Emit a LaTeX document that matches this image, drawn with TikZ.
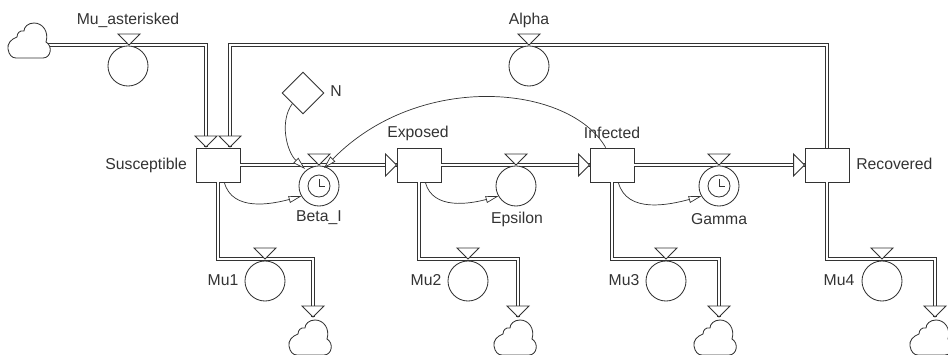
\documentclass[tikz,border=0pt]{standalone}
\usepackage{fontspec}
\setmainfont{Liberation Sans}
\usetikzlibrary{arrows.meta,shapes.geometric}
\definecolor{inkgray}{gray}{0.2}
\tikzset{
    stock/.style={draw=inkgray, line width=0.6pt, fill=white, minimum width=1.1cm, minimum height=0.85cm, inner sep=0pt},
    conv/.style={draw=inkgray, line width=0.6pt, fill=white, circle, minimum size=1cm, inner sep=0pt},
    aux/.style={draw=inkgray, line width=0.6pt, fill=white, diamond, aspect=1, minimum size=1.05cm, inner sep=0pt},
    lbl/.style={text=inkgray, inner sep=0pt, font=\fontsize{11.2}{12}\selectfont},
    pipe/.style={draw=inkgray, line width=0.6pt, double=white, double distance=1.7pt, line join=miter},
    link/.style={draw=inkgray, line width=0.5pt, -{Triangle[open, length=9pt, width=5pt, fill=white]}},
    sourcecloud/.pic={
        \draw[inkgray, line width=0.6pt, fill=white] (-13,18) -- (14,18)
            .. controls (22,18) and (24,6) .. (17,2)
            .. controls (20,-8) and (14,-17) .. (5,-17)
            .. controls (-1,-17) and (-5,-13) .. (-5,-9)
            .. controls (-9,-10) and (-12,-7) .. (-12,-3)
            .. controls (-18,-1) and (-22,4) .. (-21,9)
            .. controls (-20,15) and (-17,18) .. (-13,18) -- cycle;
    },
    % hollow triangle, apex on the origin, base behind it
    wedge/.pic={
        \draw[inkgray, line width=0.6pt, fill=white] (-11,-11) -- (11,-11) -- (0,0) -- cycle;
    },
    clockface/.pic={
        \draw[inkgray, line width=0.6pt] (0,0) circle (11);
        \draw[inkgray, line width=0.6pt] (0,-7) -- (0,0) -- (6,0);
    },
}
\begin{document}
\begin{tikzpicture}[x=0.025cm, y=-0.025cm]
    \useasboundingbox (0,0) rectangle (948,355);

    % Stocks
    \node[stock] (susceptible) at (218,165) {};
    \node[stock] (exposed) at (419,165) {};
    \node[stock] (infected) at (612,165) {};
    \node[stock] (recovered) at (827,165) {};
    \node[lbl, left=6pt] at (susceptible.west) (suscLabel) {Susceptible};
    \node[lbl] (expoLabel) at (418,133) {Exposed};
    \node[lbl] (infeLabel) at (612,133) {Infected};
    \node[lbl, anchor=west] (recoLabel) at (856,164) {Recovered};

    % Valve points on the pipes
    \coordinate (valveMuStar) at (129,45);
    \coordinate (valveAlpha) at (529,45);
    \coordinate (valveBeta) at (319,165);
    \coordinate (valveEpsilon) at (516,165);
    \coordinate (valveGamma) at (719,165);
    \coordinate (valveMuOne) at (265,259);
    \coordinate (valveMuTwo) at (468,259);
    \coordinate (valveMuThree) at (666,259);
    \coordinate (valveMuFour) at (882,259);

    % Pipe ends
    \coordinate (cloudStart) at (48,45);
    \coordinate (tipStar) at (206,147);
    \coordinate (tipAlpha) at (230,147);
    \coordinate (cloudEndOne) at (313,317);
    \coordinate (cloudEndTwo) at (518,317);
    \coordinate (cloudEndThree) at (719,317);
    \coordinate (cloudEndFour) at (935,317);

    % Inflow and outflow pipes
    \draw[pipe] (cloudStart) -| (tipStar);
    \draw[pipe] (recovered.north) |- (valveAlpha) -| (tipAlpha);
    \draw[pipe] (susceptible.east) -- (exposed.west);
    \draw[pipe] (exposed.east) -- (infected.west);
    \draw[pipe] (infected.east) -- (recovered.west);
    \draw[pipe] (susceptible.south) |- (valveMuOne) -| (cloudEndOne);
    \draw[pipe] (exposed.south) |- (valveMuTwo) -| (cloudEndTwo);
    \draw[pipe] (infected.south) |- (valveMuThree) -| (cloudEndThree);
    \draw[pipe] (recovered.south) |- (valveMuFour) -| (cloudEndFour);

    % Clouds
    \pic at (29,40) {sourcecloud};
    \pic at (310,337) {sourcecloud};
    \pic at (515,337) {sourcecloud};
    \pic at (715,337) {sourcecloud};
    \pic at (931,337) {sourcecloud};

    % Arrow ends of the pipes
    \pic at (tipStar) {wedge};
    \pic at (tipAlpha) {wedge};
    \pic[rotate=90] at (exposed.west) {wedge};
    \pic[rotate=90] at (infected.west) {wedge};
    \pic[rotate=90] at (recovered.west) {wedge};
    \pic at (cloudEndOne) {wedge};
    \pic at (cloudEndTwo) {wedge};
    \pic at (cloudEndThree) {wedge};
    \pic at (cloudEndFour) {wedge};

    % Converters
    \node[conv] (muStar) at (128,66) {};
    \node[conv] (alpha) at (529,66) {};
    \node[conv] (betaI) at (319,186) {};
    \node[conv] (epsilon) at (516,186) {};
    \node[conv] (gamma) at (719,186) {};
    \node[conv] (muOne) at (265,281) {};
    \node[conv] (muTwo) at (468,281) {};
    \node[conv] (muThree) at (666,281) {};
    \node[conv] (muFour) at (882,281) {};
    \pic at (betaI) {clockface};
    \pic at (gamma) {clockface};

    % Valves sit on top of the converters
    \pic at (valveMuStar) {wedge};
    \pic at (valveAlpha) {wedge};
    \pic at (valveBeta) {wedge};
    \pic at (valveEpsilon) {wedge};
    \pic at (valveGamma) {wedge};
    \pic at (valveMuOne) {wedge};
    \pic at (valveMuTwo) {wedge};
    \pic at (valveMuThree) {wedge};
    \pic at (valveMuFour) {wedge};

    % Converter labels
    \node[lbl] (muStarLabel) at (128,20) {Mu\_asterisked};
    \node[lbl] (alphaLabel) at (529,20) {Alpha};
    \node[lbl] (betaLabel) at (319,218) {Beta\_I};
    \node[lbl] (epsilonLabel) at (517,219) {Epsilon};
    \node[lbl] (gammaLabel) at (719,219) {Gamma};
    \node[lbl] (muOneLabel) at (223,280) {Mu1};
    \node[lbl] (muTwoLabel) at (426,280) {Mu2};
    \node[lbl] (muThreeLabel) at (624,280) {Mu3};
    \node[lbl] (muFourLabel) at (839,280) {Mu4};

    % Auxiliary
    \node[aux] (totalN) at (303,93) {};
    \node[lbl] (totalLabel) at (336,91) {N};

    % Information links
    \coordinate (betaLeft) at (305,169);
    \coordinate (betaRight) at (324,168);
    \draw[link] (totalN.south west) .. controls (279,122) and (287,152) .. (betaLeft);
    \draw[link] (infected.110) .. controls (570,85) and (420,70) .. (betaRight);
    \draw[link] (susceptible.-70) to[out=-75, in=195] (betaI.210);
    \draw[link] (exposed.-70) to[out=-75, in=195] (epsilon.210);
    \draw[link] (infected.-70) to[out=-75, in=195] (gamma.210);
\end{tikzpicture}
\end{document}
